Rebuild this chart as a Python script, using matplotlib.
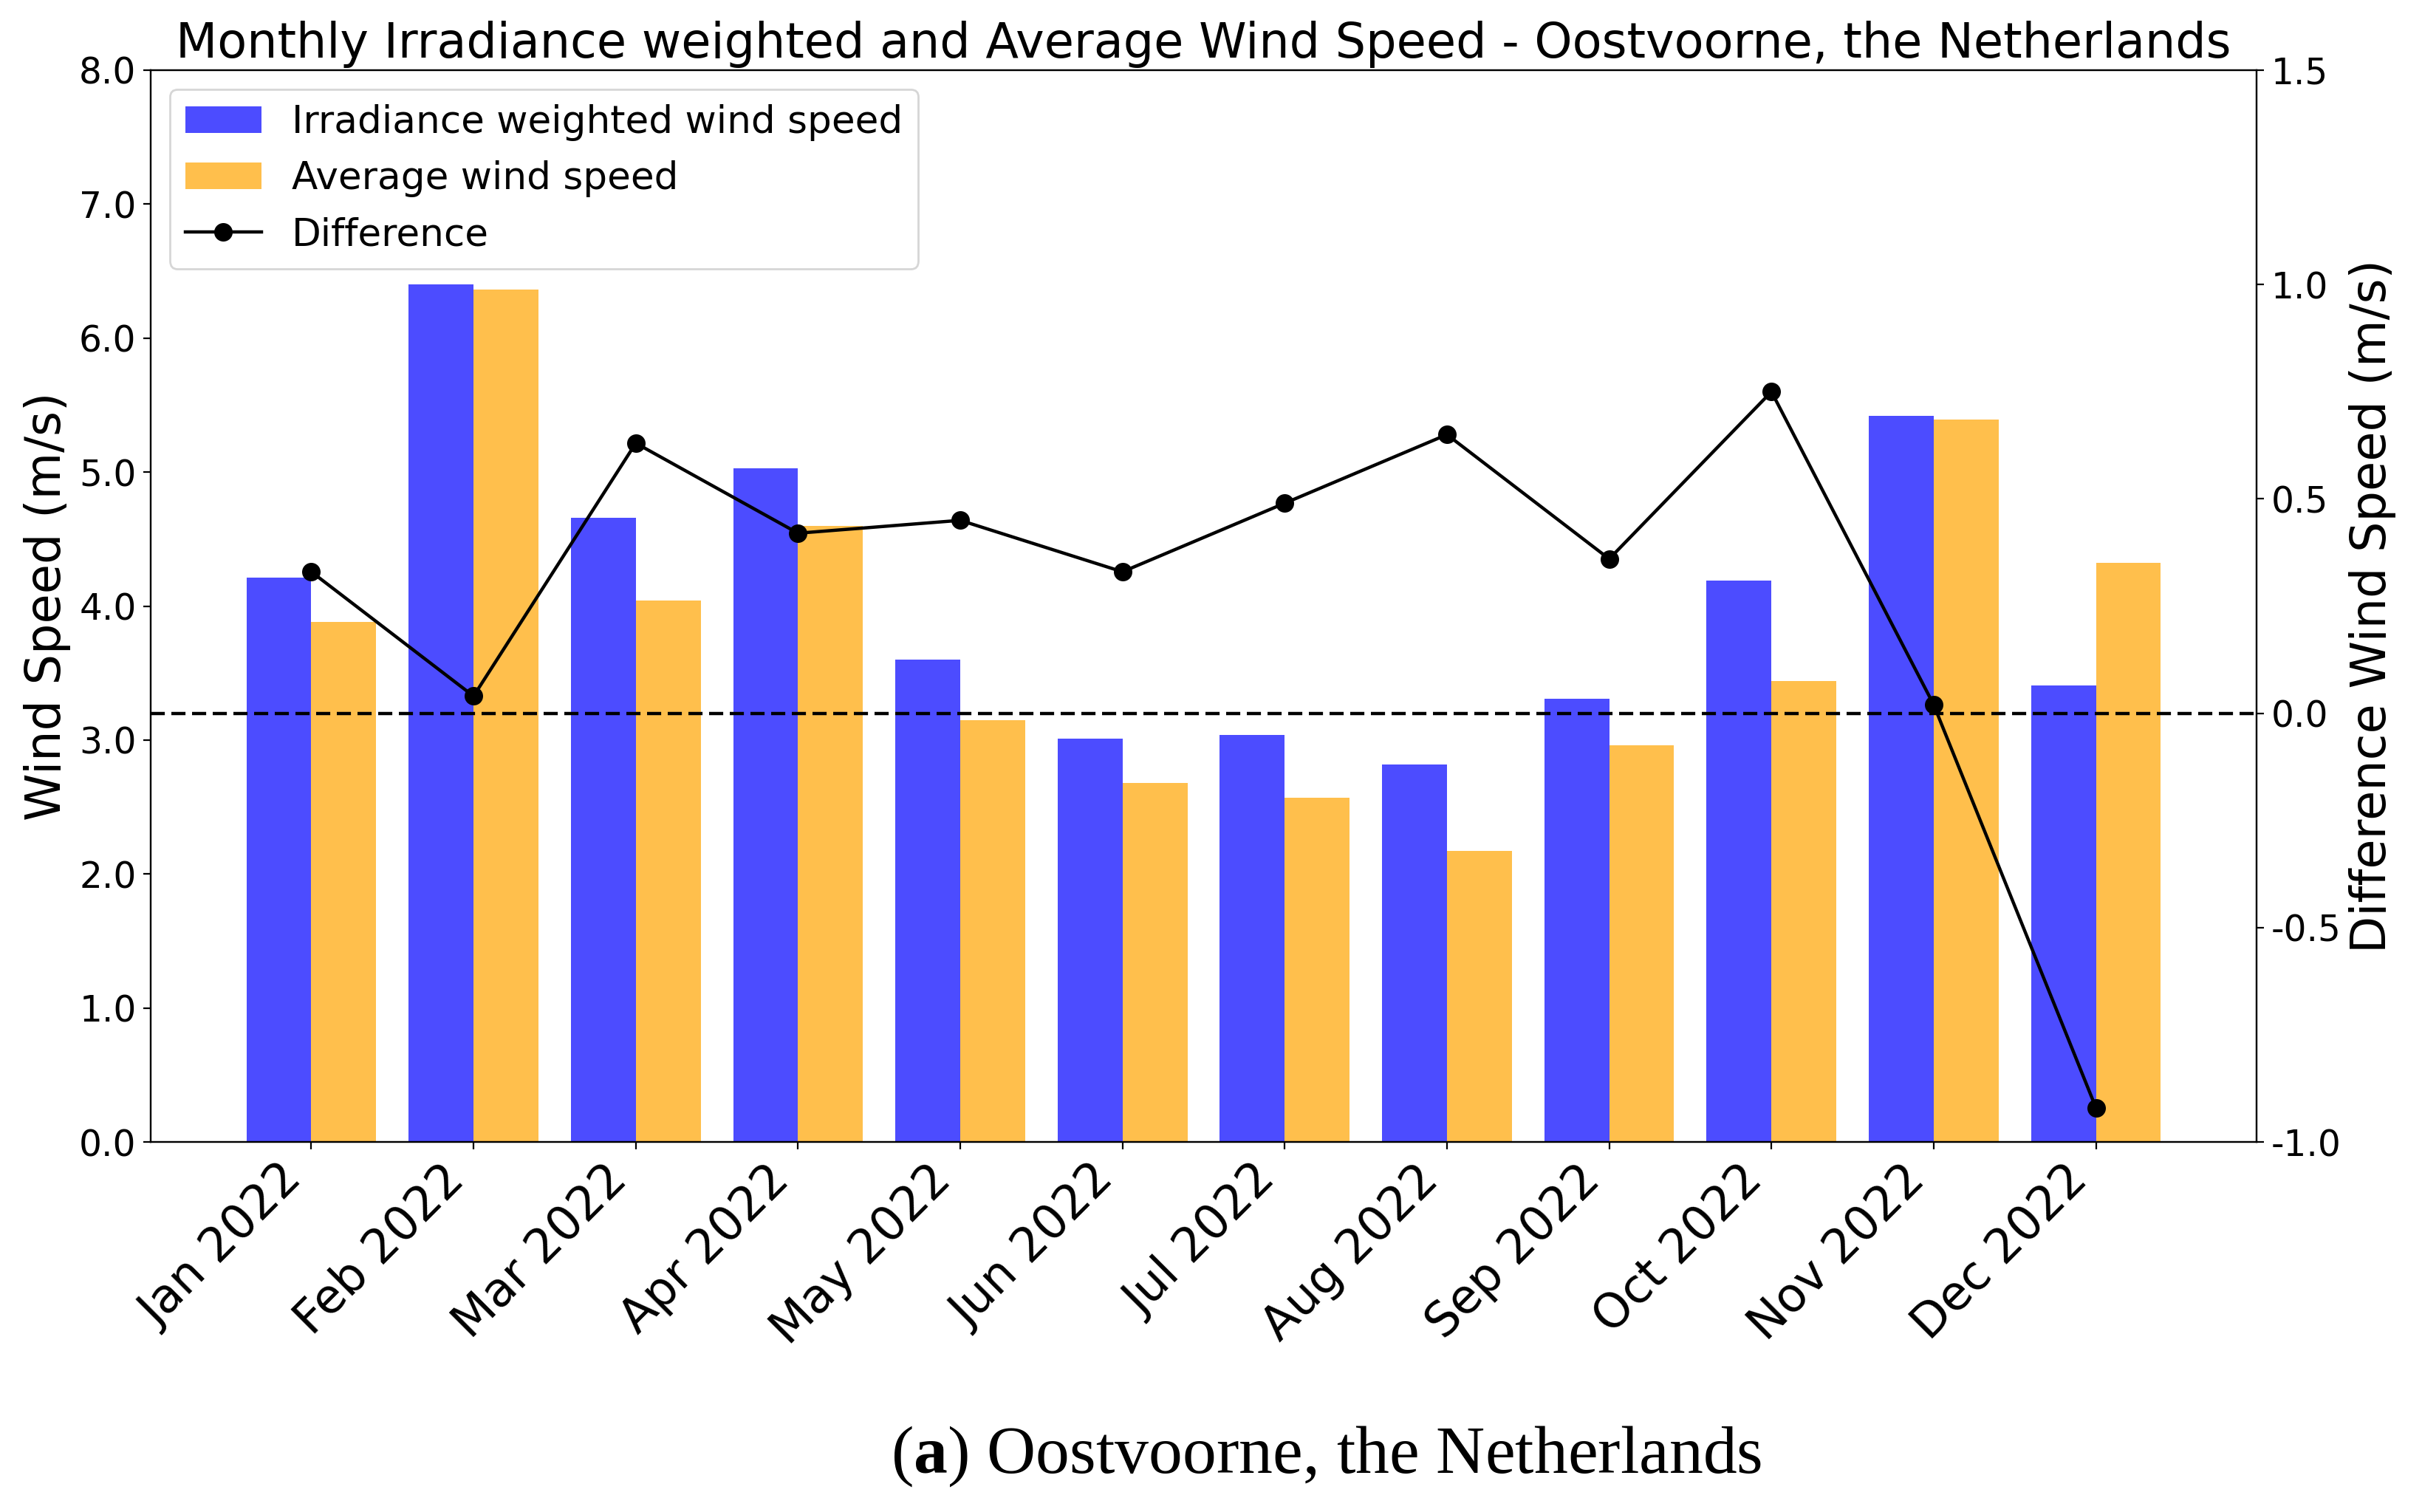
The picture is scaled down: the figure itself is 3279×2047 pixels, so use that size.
import numpy as np
import matplotlib
matplotlib.use("Agg")
import matplotlib.pyplot as plt

months = ["Jan 2022", "Feb 2022", "Mar 2022", "Apr 2022", "May 2022", "Jun 2022",
          "Jul 2022", "Aug 2022", "Sep 2022", "Oct 2022", "Nov 2022", "Dec 2022"]
irr_weighted = [4.21, 6.40, 4.66, 5.03, 3.60, 3.01, 3.04, 2.82, 3.31, 4.19, 5.42, 3.41]
avg_speed = [3.88, 6.36, 4.04, 4.60, 3.15, 2.68, 2.57, 2.17, 2.96, 3.44, 5.39, 4.32]
difference = [0.33, 0.04, 0.63, 0.42, 0.45, 0.33, 0.49, 0.65, 0.36, 0.75, 0.02, -0.92]

plt.rcParams['mathtext.fontset'] = 'custom'
plt.rcParams['mathtext.rm'] = 'Liberation Serif'
plt.rcParams['mathtext.bf'] = 'Liberation Serif:bold'

fig = plt.figure(figsize=(16.4, 10.235), dpi=200)
ax = fig.add_axes([0.0622, 0.2447, 0.8692, 0.7089])

x = np.arange(len(months))
w = 0.4
b1 = ax.bar(x - w / 2, irr_weighted, w, color='blue', alpha=0.7, label='Irradiance weighted wind speed')
b2 = ax.bar(x + w / 2, avg_speed, w, color='orange', alpha=0.7, label='Average wind speed')

ax.set_ylim(0, 8)
ax.set_yticks(np.arange(0, 8.1, 1))
ax.set_yticklabels([f"{v:.1f}" for v in np.arange(0, 8.1, 1)])
ax.set_xticks(x)
ax.set_xticklabels(months, rotation=45, ha='right')
ax.tick_params(axis='y', labelsize=17.5)
ax.tick_params(axis='x', labelsize=23)
ax.set_ylabel("Wind Speed (m/s)", fontsize=23.5)
ax.set_title("Monthly Irradiance weighted and Average Wind Speed - Oostvoorne, the Netherlands",
             fontsize=23.5)

ax2 = ax.twinx()
ln, = ax2.plot(x, difference, color='black', marker='o', markersize=8, linewidth=1.6, label='Difference')
ax2.axhline(0, color='black', linestyle=(0, (4.3, 2.0)), linewidth=1.6)
ax2.set_ylim(-1.0, 1.5)
ax2.set_yticks(np.arange(-1.0, 1.51, 0.5))
ax2.set_yticklabels([f"{v:.1f}" for v in np.arange(-1.0, 1.51, 0.5)])
ax2.tick_params(labelsize=17.5)
ax2.set_ylabel("Difference Wind Speed (m/s)", fontsize=23.5)

ax.legend([b1, b2, ln], [b1.get_label(), b2.get_label(), ln.get_label()],
          loc='upper left', fontsize=18.6)

fig.text(0.5476, 0.026, r"($\mathbf{a}$) Oostvoorne, the Netherlands",
         ha='center', va='baseline', fontsize=33, family='Liberation Serif')

fig.savefig("out.png", dpi=200)
